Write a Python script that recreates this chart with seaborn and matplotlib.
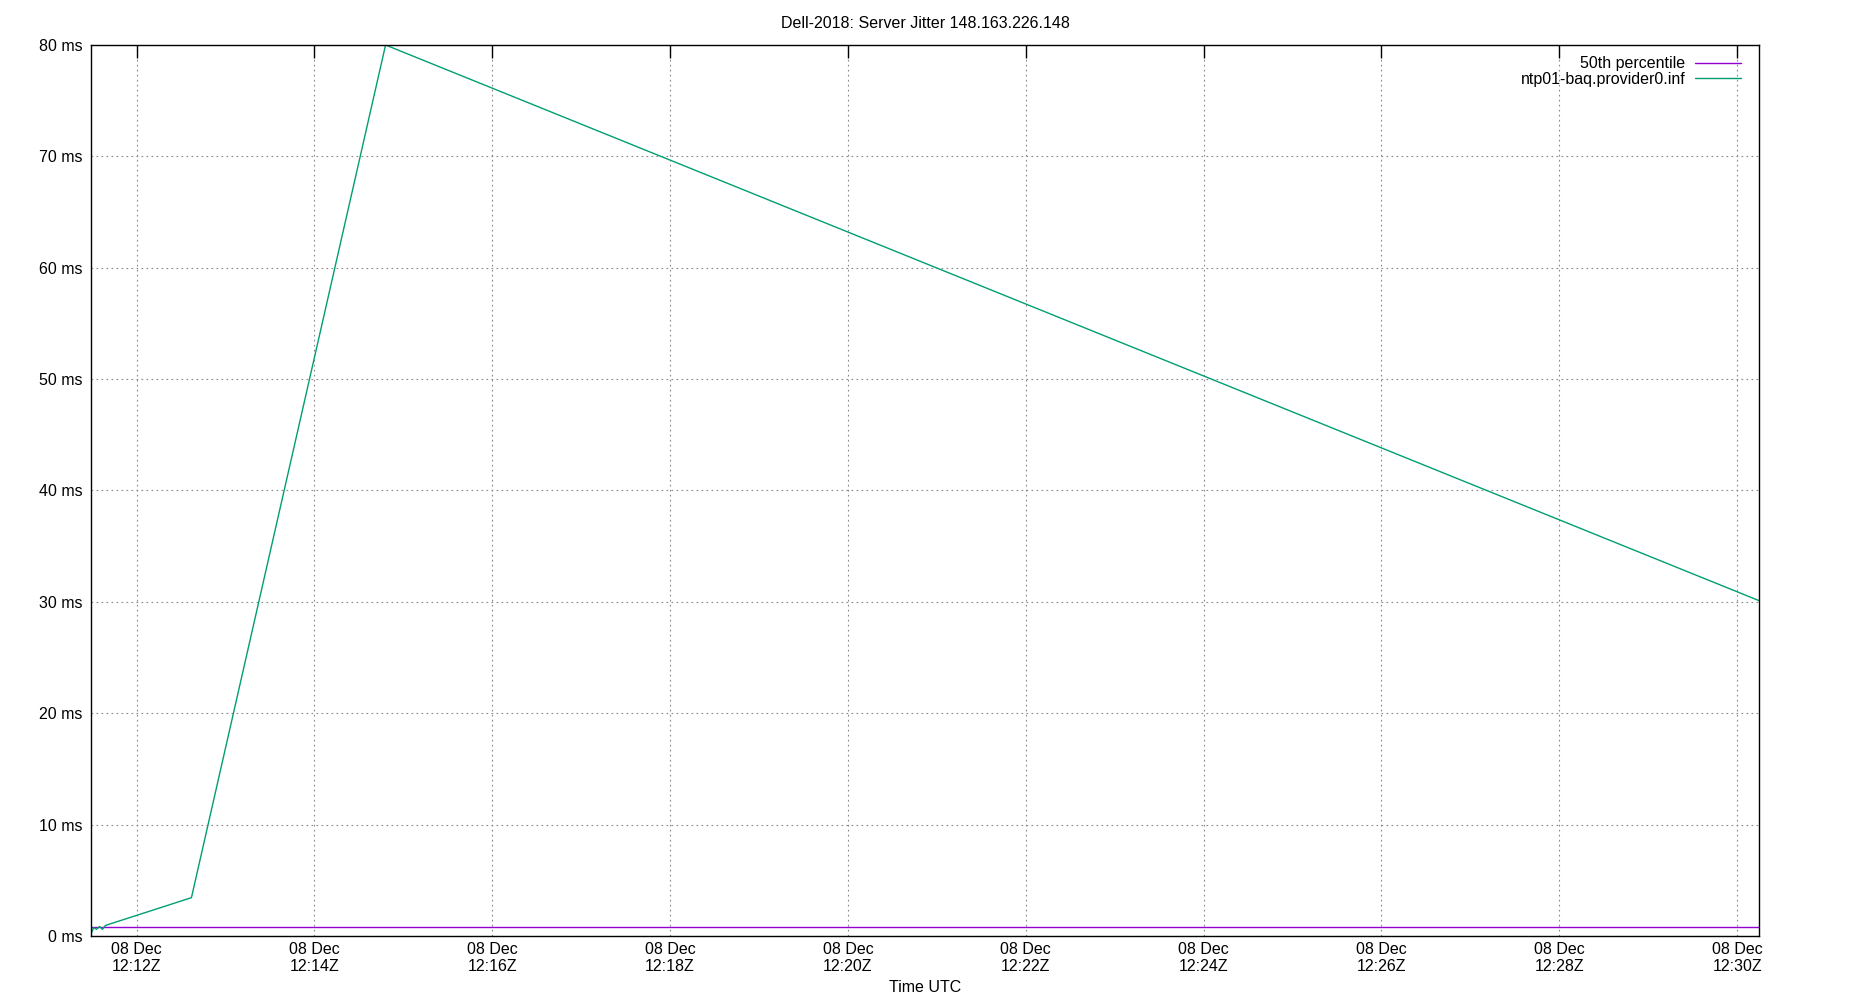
import pandas as pd
import matplotlib
matplotlib.use("Agg")
import matplotlib.pyplot as plt
import matplotlib.dates as mdates
import seaborn as sns

# server jitter samples (ms)
jitter_times = ["2023-12-08 12:11:29", "2023-12-08 12:11:31", "2023-12-08 12:11:33",
                "2023-12-08 12:11:35", "2023-12-08 12:11:37", "2023-12-08 12:11:39",
                "2023-12-08 12:12:37", "2023-12-08 12:14:48", "2023-12-08 12:30:15"]
jitter_ms = [0.1, 0.75, 0.6, 0.85, 0.6, 0.95, 3.44, 80.0, 30.1]

# 50th percentile over the whole window
p50_times = ["2023-12-08 12:11:29", "2023-12-08 12:30:15"]
p50_ms = [0.78, 0.78]

title = "Dell-2018: Server Jitter 148.163.226.148"
server_name = "ntp01-baq.provider0.inf"

df_jit = pd.DataFrame({"time": pd.to_datetime(jitter_times), "ms": jitter_ms})
df_p50 = pd.DataFrame({"time": pd.to_datetime(p50_times), "ms": p50_ms})

sns.set_theme(style="white")
plt.rcParams["font.family"] = ["Liberation Sans", "DejaVu Sans"]

fig = plt.figure(figsize=(18.5, 10), dpi=100)
ax = fig.add_axes([0.049, 0.064, 0.902, 0.891])

sns.lineplot(data=df_p50, x="time", y="ms", ax=ax, color="#9400d3",
             linewidth=1.0, label="50th percentile")
sns.lineplot(data=df_jit, x="time", y="ms", ax=ax, color="#009e73",
             linewidth=1.0, label=server_name)

ax.set_xlim(df_jit["time"].iloc[0], df_jit["time"].iloc[-1])
ax.set_ylim(0, 80)
ax.set_yticks(range(0, 81, 10))
ax.set_yticklabels([f"{v} ms" for v in range(0, 81, 10)])

ax.xaxis.set_major_locator(mdates.MinuteLocator(byminute=range(0, 60, 2)))
ax.xaxis.set_major_formatter(mdates.DateFormatter("%d %b\n%H:%MZ"))

ax.grid(True, color="#888888", linestyle=(0, (1.5, 3)), linewidth=0.8)
for s in ax.spines.values():
    s.set_color("black")
    s.set_linewidth(1.0)
ax.tick_params(axis="both", direction="in", length=9, width=1.0, colors="black",
               labelsize=11.5, top=True, right=False, pad=6)
for lab in ax.get_xticklabels() + ax.get_yticklabels():
    lab.set_color("black")
ax.tick_params(axis="x", pad=4)

ax.set_title(title, fontsize=11.5, color="black", pad=12)
ax.set_xlabel("Time UTC", fontsize=11.5, color="black", labelpad=4)
ax.set_ylabel("")

leg = ax.legend(loc="upper right", bbox_to_anchor=(0.996, 1.0), frameon=False,
                markerfirst=False, fontsize=11.5, handlelength=2.9,
                borderaxespad=0.3, labelspacing=0.05, handletextpad=0.6)
for t in leg.get_texts():
    t.set_color("black")

plt.savefig("out.png", dpi=100)
plt.close()
